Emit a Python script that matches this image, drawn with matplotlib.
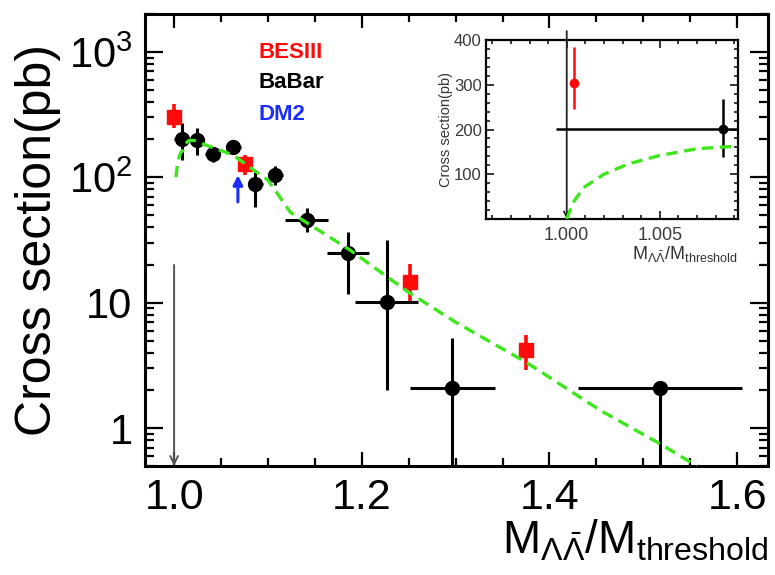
import numpy as np
import matplotlib
matplotlib.use("Agg")
import matplotlib.pyplot as plt
from matplotlib.ticker import FixedLocator, MultipleLocator, LogLocator, NullFormatter, FixedFormatter

plt.rcParams["font.family"] = ["Liberation Sans", "DejaVu Sans"]
plt.rcParams["mathtext.fontset"] = "custom"
plt.rcParams["mathtext.rm"] = "Liberation Sans"
plt.rcParams["mathtext.it"] = "Liberation Sans:italic"
plt.rcParams["mathtext.bf"] = "Liberation Sans:bold"

# ---- BESIII measurements (pb) ----
bes_x = [1.0004, 1.0757, 1.2515, 1.375]
bes_y = [305.0, 128.6, 14.6, 4.2]
bes_lo = [59.0, 25.0, 4.2, 1.3]
bes_hi = [79.0, 21.0, 5.9, 1.3]

# ---- BaBar measurements (pb) ----
babar_x = [1.0084, 1.0242, 1.0412, 1.0632, 1.0863, 1.1076, 1.1414, 1.1857, 1.2265, 1.2965, 1.518]
babar_y = [201.0, 197.0, 152.0, 174.0, 89.0, 104.0, 45.5, 24.7, 10.1, 2.08, 2.08]
babar_xerr = [0.009, 0.008, 0.008, 0.008, 0.008, 0.008, 0.023, 0.0224, 0.0335, 0.045, 0.0873]
babar_lo = [63.0, 47.0, 20.0, 20.0, 31.0, 18.0, 9.0, 12.9, 8.1, 2.08, 2.08]
babar_hi = [68.0, 50.0, 20.0, 25.0, 21.0, 18.0, 11.0, 12.0, 21.4, 3.2, 0.0]

# ---- DM2 lower limit (arrow) ----
dm2_x = 1.068
dm2_from = 63.6
dm2_to = 104.0

# ---- threshold marker ----
lim_x = 1.0
lim_top_main = 20.0
lim_top_inset = 420.0

# ---- model curve ----
curve_x = [1.0, 1.00035, 1.0009, 1.002, 1.0033, 1.005, 1.007, 1.0092, 1.012, 1.016,
           1.022, 1.03, 1.042, 1.063, 1.085, 1.10, 1.124, 1.1875, 1.25, 1.30,
           1.375, 1.454, 1.518, 1.557]
curve_y = [0.0, 37.0, 70.0, 100.0, 123.0, 142.0, 157.0, 163.0, 185.0, 197.0,
           196.0, 185.0, 172.0, 150.0, 114.0, 95.0, 52.5, 26.3, 12.1, 7.0,
           3.36, 1.39, 0.75, 0.5]

RED = "#ff0a0a"
GREEN = "#3ee61c"
BLUE = "#1a2cff"

fig = plt.figure(figsize=(7.75, 5.75), dpi=100)
ax = fig.add_axes([0.1871, 0.1896, 0.804, 0.786])
ax.set_yscale("log")
ax.set_ylim(0.5, 2000)
ax.set_xlim(0.969, 1.633)

# curve (only the part above threshold rise on the log panel)
cx = np.array(curve_x)
cy = np.array(curve_y)
m = cx >= 1.002
ax.plot(cx[m], cy[m], color=GREEN, lw=2.4, ls=(0, (3.4, 2.0)), zorder=6)

# BaBar points
by = np.array(babar_y)
blo = np.minimum(np.array(babar_lo), by - 0.45)
ax.errorbar(babar_x, by, xerr=babar_xerr, yerr=[blo, babar_hi], fmt="o",
            color="black", ms=10, elinewidth=2.2, capsize=0, zorder=4)

# BESIII points
ax.errorbar(bes_x, bes_y, yerr=[bes_lo, bes_hi], fmt="s", color=RED, ms=10,
            elinewidth=2.6, capsize=0, zorder=5)

# DM2 arrow
ax.annotate("", xy=(dm2_x, dm2_to), xytext=(dm2_x, dm2_from),
            arrowprops=dict(arrowstyle="-|>", color=BLUE, lw=2.2,
                            mutation_scale=14, shrinkA=0, shrinkB=0), zorder=5)

# threshold arrow
ax.annotate("", xy=(lim_x, 0.5), xytext=(lim_x, lim_top_main),
            arrowprops=dict(arrowstyle="->", color="#555555", lw=1.4,
                            mutation_scale=14, shrinkA=0, shrinkB=0), zorder=3)

# axes styling
for s in ax.spines.values():
    s.set_linewidth(2.2)
ax.xaxis.set_major_locator(FixedLocator([1.0, 1.2, 1.4, 1.6]))
ax.xaxis.set_major_formatter(FixedFormatter(["1.0", "1.2", "1.4", "1.6"]))
ax.xaxis.set_minor_locator(MultipleLocator(0.05))
ax.yaxis.set_major_locator(FixedLocator([1, 10, 100, 1000]))
ax.yaxis.set_major_formatter(FixedFormatter(["1", "10", r"$\mathregular{10^2}$", r"$\mathregular{10^3}$"]))
ax.yaxis.set_minor_locator(LogLocator(base=10, subs=np.arange(2, 10), numticks=20))
ax.yaxis.set_minor_formatter(NullFormatter())
ax.tick_params(which="both", direction="in", top=True, right=True, width=1.6)
ax.tick_params(axis="y", which="major", length=13, labelsize=30, pad=9)
ax.tick_params(axis="y", which="minor", length=6.5)
ax.tick_params(axis="x", which="major", length=10, labelsize=31, pad=9)
ax.tick_params(axis="x", which="minor", length=5.5)

ax.set_ylabel("Cross section(pb)", fontsize=36, labelpad=6)
ax.set_xlabel(r"$\mathregular{M_{\Lambda\bar{\Lambda}}/M_{threshold}}$", fontsize=33,
              loc="right", labelpad=0)

# legend texts
fig.text(0.334, 0.909, "BESIII", color=RED, fontsize=16, fontweight="bold", va="center")
fig.text(0.334, 0.856, "BaBar", color="black", fontsize=16, fontweight="bold", va="center")
fig.text(0.334, 0.800, "DM2", color=BLUE, fontsize=16, fontweight="bold", va="center")

# ---- inset: zoom near threshold ----
ax2 = fig.add_axes([0.6271, 0.6191, 0.3252, 0.3113])
ax2.set_xlim(0.99566, 1.00921)
ax2.set_ylim(0, 400)
ax2.plot(cx, cy, color=GREEN, lw=2.4, ls=(0, (3.4, 2.0)), zorder=6)
ax2.errorbar(babar_x[:1], babar_y[:1], xerr=babar_xerr[:1],
             yerr=[babar_lo[:1], babar_hi[:1]], fmt="o", color="black", ms=6,
             elinewidth=1.8, capsize=0, zorder=4)
ax2.errorbar(bes_x[:1], bes_y[:1], yerr=[bes_lo[:1], bes_hi[:1]], fmt="o", color=RED,
             ms=6, elinewidth=1.8, capsize=0, zorder=5)
ax2.annotate("", xy=(lim_x, 0), xytext=(lim_x, lim_top_inset),
             arrowprops=dict(arrowstyle="->", color="#222222", lw=1.3,
                             mutation_scale=10, shrinkA=0, shrinkB=0), zorder=3,
             annotation_clip=False)
for s in ax2.spines.values():
    s.set_linewidth(1.6)
ax2.xaxis.set_major_locator(FixedLocator([1.000, 1.005]))
ax2.xaxis.set_major_formatter(FixedFormatter(["1.000", "1.005"]))
ax2.xaxis.set_minor_locator(MultipleLocator(0.001))
ax2.yaxis.set_major_locator(MultipleLocator(100))
ax2.yaxis.set_minor_locator(MultipleLocator(20))
ax2.tick_params(which="both", direction="in", top=True, right=True, width=1.1,
                labelcolor="#3a3a3a")
ax2.tick_params(axis="x", which="major", length=5.5, pad=6, labelsize=13)
ax2.tick_params(axis="y", which="major", length=5.5, pad=3, labelsize=12)
ax2.tick_params(which="minor", length=3)
ax2.set_yticks([100, 200, 300, 400])
ax2.set_ylabel("Cross section(pb)", fontsize=10.5, color="#333333", labelpad=1)
ax2.set_xlabel(r"$\mathregular{M_{\Lambda\bar{\Lambda}}/M_{threshold}}$", fontsize=13,
               color="#333333", loc="right", labelpad=0)

fig.savefig("out.png", dpi=100)
